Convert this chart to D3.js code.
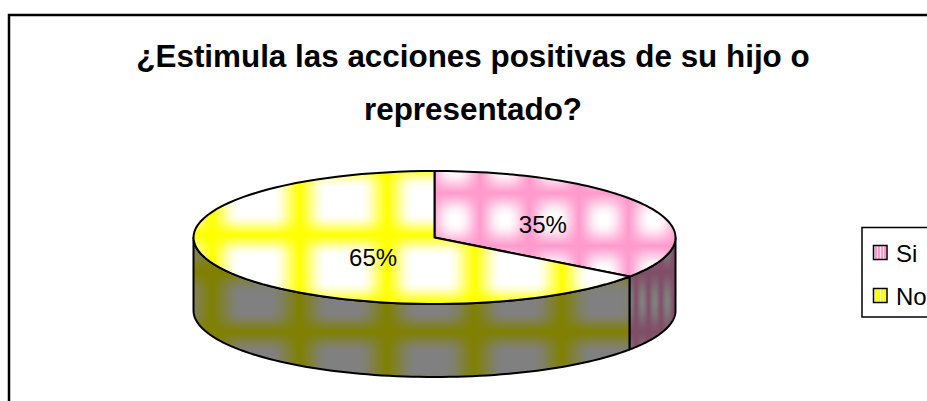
<!DOCTYPE html>
<html><head><meta charset="utf-8">
<script src="https://cdn.jsdelivr.net/npm/d3@7"></script>
<style>html,body{margin:0;padding:0;background:#fff;overflow:hidden}svg{display:block;font-family:"Liberation Sans",Arial,sans-serif}</style>
</head><body><svg id="c" width="927" height="401"></svg>
<script>
const categories = ["Si", "No"];
const values = [35, 65];
const titleLines = ["¿Estimula las acciones positivas de su hijo o", "representado?"];
const topBand = ["#ff99cc", "#ffff00"];
const sideBand = ["#804d66", "#808000"];
const sideMid = "#808080";

const W = 927, H = 401, cx = 434.5, cy = 237.5, rx = 241, ry = 66.5, depth = 73;
const svg = d3.select("#c");
const defs = svg.append("defs");

function grad(id, dir, c0, s) {
  const g = defs.append("linearGradient").attr("id", id)
    .attr("x1", 0).attr("y1", 0)
    .attr("x2", dir === "h" ? 1 : 0).attr("y2", dir === "h" ? 0 : 1);
  [[0, 1], [s * .35, .6], [s * .7, .18], [s, 0], [1 - s, 0], [1 - s * .7, .18], [1 - s * .35, .6], [1, 1]]
    .forEach(([o, a]) => g.append("stop").attr("offset", o).attr("stop-color", c0).attr("stop-opacity", a));
}
function plaid(id, base, band, tw, th, ox, oy, s) {
  grad(id + "h", "h", band, s); grad(id + "v", "v", band, s);
  const p = defs.append("pattern").attr("id", id).attr("patternUnits", "userSpaceOnUse")
    .attr("width", tw).attr("height", th).attr("x", ox).attr("y", oy);
  p.append("rect").attr("width", tw).attr("height", th).attr("fill", base);
  p.append("rect").attr("width", tw).attr("height", th).attr("fill", `url(#${id}h)`);
  p.append("rect").attr("width", tw).attr("height", th).attr("fill", `url(#${id}v)`);
}
plaid("topSi", "#ffffff", topBand[0], 49.5, 53, 480, 193, .42);
plaid("topNo", "#ffffff", topBand[1], 87.5, 68, 212, 235, .29);
plaid("sideSi", sideMid, sideBand[0], 12.5, 60, 636, 332, .45);
plaid("sideNo", sideMid, sideBand[1], 87.5, 60, 212, 332, .32);

// legend swatch stripes
function stripes(id, band) {
  const p = defs.append("pattern").attr("id", id).attr("patternUnits", "userSpaceOnUse")
    .attr("width", 3).attr("height", 14).attr("x", 0).attr("y", 0);
  p.append("rect").attr("width", 3).attr("height", 14).attr("fill", band);
  p.append("rect").attr("x", 1).attr("width", 1).attr("height", 14).attr("fill", "#fff").attr("opacity", .75);
}
stripes("legSi", topBand[0]); stripes("legNo", topBand[1]);

// Frame, open at the clipped right/bottom edges
svg.append("rect").attr("x", 9).attr("y", 15).attr("width", W + 20).attr("height", H + 20)
  .attr("fill", "#fff").attr("stroke", "#000").attr("stroke-width", 2.5);

// Title
svg.append("g").selectAll("text").data(titleLines).join("text")
  .attr("x", 473).attr("y", (d, i) => 67 + i * 53)
  .attr("text-anchor", "middle").attr("font-size", 31.4).attr("font-weight", "bold").attr("fill", "#000")
  .text(d => d);

const pie = d3.pie().sort(null).value(d => d);
const arcs = pie(values);
const px = a => cx + rx * Math.sin(a);
const py = a => cy - ry * Math.cos(a);

const lineGen = d3.line();
function rimPoints(a0, a1, dy) {
  return d3.range(0, 1.0001, 1 / 80).map(t => {
    const a = a0 + (a1 - a0) * t;
    return [px(a), py(a) + dy];
  });
}
// Side walls: only the front half of the rim (90deg to 270deg) shows
const front = [Math.PI / 2, 3 * Math.PI / 2];
const walls = arcs.map((d, i) => {
  const a0 = Math.max(d.startAngle, front[0]), a1 = Math.min(d.endAngle, front[1]);
  return a1 > a0 ? { i, a0, a1 } : null;
}).filter(Boolean);
svg.append("g").selectAll("path").data(walls).join("path")
  .attr("d", d => lineGen(rimPoints(d.a0, d.a1, 0).concat(rimPoints(d.a1, d.a0, depth))) + "Z")
  .attr("fill", d => d.i === 0 ? "url(#sideSi)" : "url(#sideNo)")
  .attr("stroke", "#000").attr("stroke-width", 2).attr("stroke-linejoin", "round");

// Top slices
svg.append("g").selectAll("path").data(arcs).join("path")
  .attr("d", d => lineGen([[cx, cy]].concat(rimPoints(d.startAngle, d.endAngle, 0))) + "Z")
  .attr("fill", (d, i) => i === 0 ? "url(#topSi)" : "url(#topNo)")
  .attr("stroke", "#000").attr("stroke-width", 2).attr("stroke-linejoin", "round");

// Labels, placed from each slice's mid-angle
const labelOffset = [[1, 4], [46, 7]];
svg.append("g").selectAll("text").data(arcs).join("text")
  .attr("x", d => cx + rx * 0.5 * Math.sin((d.startAngle + d.endAngle) / 2))
  .attr("y", d => cy - ry * 0.5 * Math.cos((d.startAngle + d.endAngle) / 2))
  .attr("dx", d => labelOffset[d.index][0]).attr("dy", d => labelOffset[d.index][1])
  .attr("text-anchor", "middle").attr("font-size", 24).attr("fill", "#000")
  .attr("dominant-baseline", "middle")
  .text(d => d.data + "%");

// Legend
svg.append("rect").attr("x", 862).attr("y", 227.5).attr("width", 100).attr("height", 89.5)
  .attr("fill", "#fff").attr("stroke", "#000").attr("stroke-width", 1.5);
const lg = svg.append("g").selectAll("g").data(categories).join("g")
  .attr("transform", (d, i) => `translate(0,${252.5 + i * 43})`);
lg.append("rect").attr("x", 873.5).attr("y", -7).attr("width", 13.5).attr("height", 14)
  .attr("fill", (d, i) => i === 0 ? "url(#legSi)" : "url(#legNo)")
  .attr("stroke", "#000").attr("stroke-width", 1.5);
lg.append("text").attr("x", 896).attr("y", 9).attr("font-size", 24).attr("fill", "#000").text(d => d);
</script></body></html>
